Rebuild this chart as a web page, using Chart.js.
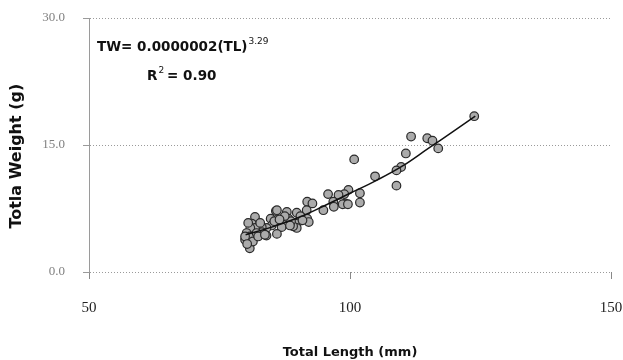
<!DOCTYPE html>
<html>
<head>
<meta charset="utf-8">
<script src="https://cdn.jsdelivr.net/npm/chart.js@4/dist/chart.umd.min.js"></script>
<style>
  html, body { margin: 0; padding: 0; background: #fff; }
  #wrap { width: 623px; height: 360px; }
</style>
</head>
<body>
<div id="wrap"><canvas id="chart" width="623" height="360"></canvas></div>
<script>
// Total length (mm) and weight (g) of each fish
const lengths = [
  123.8, 111.7, 114.8, 115.8, 116.9, 110.7, 100.8, 109.8, 108.9, 104.8,
  108.9, 101.9, 99.7, 98.9, 97.8, 95.8, 99.1, 98.6, 99.6, 101.9,
  96.8, 96.9, 94.9, 91.8, 92.8, 91.7, 91.8, 92.1, 89.8, 87.9,
  85.8, 89.8, 89.8, 89.1, 88.2, 88.7, 86.9, 86.0, 84.8, 85.0,
  84.0, 84.0, 83.1, 83.1, 81.8, 81.2, 81.8, 80.9, 80.2, 79.9,
  80.8, 80.8, 81.4, 82.1, 82.4, 79.9, 80.5, 83.7, 86.0, 87.5,
  90.5, 82.8, 85.5, 86.5, 80.3, 90.9, 88.5
];
const weights = [
  18.4, 16.0, 15.8, 15.5, 14.6, 14.0, 13.3, 12.4, 12.0, 11.3,
  10.2, 9.3, 9.7, 9.2, 9.1, 9.2, 8.1, 8.0, 8.0, 8.2,
  8.3, 7.7, 7.3, 8.3, 8.1, 7.3, 6.3, 5.9, 7.0, 7.1,
  7.2, 5.7, 5.2, 5.4, 6.3, 6.0, 5.3, 4.5, 6.3, 5.5,
  5.2, 4.3, 5.3, 4.7, 6.5, 5.7, 5.2, 5.2, 4.6, 3.8,
  4.2, 2.8, 3.6, 4.6, 4.2, 4.2, 5.8, 4.4, 7.3, 6.6,
  6.6, 5.8, 6.0, 6.2, 3.3, 6.1, 5.5
];

// trend line
const trendX = [80, 85, 90, 95, 100, 105, 110, 115, 120, 124];
const trendY = [4.4, 5.3, 6.4, 7.8, 9.3, 10.8, 12.5, 14.6, 16.7, 18.4];

const xTicks = [50, 100, 150];
const yTicks = [0, 15, 30];

const equationText = "TW= 0.0000002(TL)";
const exponentText = "3.29";
const r2Label = "R";
const r2Text = " = 0.90";

const points = lengths.map((x, i) => ({ x: x, y: weights[i] }));
const trend = trendX.map((x, i) => ({ x: x, y: trendY[i] }));

const textFont = "'DejaVu Sans', Verdana, sans-serif";
const tickFont = "'Liberation Serif', 'DejaVu Serif', serif";

// Equation and R squared written in the top left of the plot
const equationPlugin = {
  id: "equation",
  afterDraw(chart) {
    const ctx = chart.ctx;
    const area = chart.chartArea;
    ctx.save();
    ctx.fillStyle = "#111";
    ctx.textBaseline = "alphabetic";
    ctx.font = "bold 13.5px " + textFont;
    let x = area.left + 8;
    let y = area.top + 33;
    ctx.fillText(equationText, x, y);
    const w = ctx.measureText(equationText).width;
    ctx.font = "9px " + textFont;
    ctx.fillText(exponentText, x + w + 1, y - 7);

    ctx.font = "bold 13.5px " + textFont;
    x = area.left + 58;
    y = area.top + 62;
    ctx.fillText(r2Label, x, y);
    const rw = ctx.measureText(r2Label).width;
    ctx.font = "9px " + textFont;
    ctx.fillText("2", x + rw + 1, y - 7);
    ctx.font = "bold 13.5px " + textFont;
    ctx.fillText(r2Text, x + rw + 5, y);
    ctx.restore();
  }
};

new Chart(document.getElementById("chart"), {
  type: "scatter",
  data: {
    datasets: [
      {
        label: "fish",
        data: points,
        pointRadius: 4.3,
        pointBackgroundColor: "#ababab",
        pointBorderColor: "#2a2a2a",
        pointBorderWidth: 1.2,
        order: 2
      },
      {
        label: "trend",
        type: "line",
        data: trend,
        showLine: true,
        pointRadius: 0,
        borderColor: "#111",
        borderWidth: 1.5,
        tension: 0.4,
        fill: false,
        order: 1
      }
    ]
  },
  options: {
    responsive: false,
    animation: false,
    layout: { padding: { left: 0, right: 12, top: 18, bottom: 0 } },
    plugins: {
      legend: { display: false },
      tooltip: { enabled: false }
    },
    scales: {
      x: {
        type: "linear",
        min: 50,
        max: 150,
        afterBuildTicks: (scale) => { scale.ticks = xTicks.map(v => ({ value: v })); },
        afterFit: (scale) => {
          scale.height = 88;
          scale.paddingLeft = 0;
          scale.paddingRight = 0;
        },
        grid: {
          drawOnChartArea: false,
          drawTicks: true,
          tickLength: 7,
          color: "#888"
        },
        border: { display: false },
        ticks: {
          padding: 20,
          color: "#222",
          font: { family: tickFont, size: 15 },
          maxRotation: 0
        },
        title: {
          display: true,
          text: "Total Length (mm)",
          color: "#111",
          font: { family: textFont, size: 13, weight: "bold" },
          padding: { top: 0, bottom: 0 }
        }
      },
      y: {
        type: "linear",
        min: 0,
        max: 30,
        afterBuildTicks: (scale) => { scale.ticks = yTicks.map(v => ({ value: v })); },
        afterFit: (scale) => {
          scale.width = 89;
          scale.paddingTop = 0;
          scale.paddingBottom = 0;
        },
        grid: {
          color: "#9a9a9a",
          lineWidth: 1,
          tickLength: 6
        },
        border: { display: true, color: "#9a9a9a", dash: [1, 2] },
        ticks: {
          padding: 18,
          color: "#808080",
          font: { family: tickFont, size: 13 },
          callback: (v) => Number(v).toFixed(1)
        },
        title: {
          display: true,
          // trailing spaces push the title a little below the middle, as in the original
          text: "Totla Weight (g)    ",
          color: "#111",
          font: { family: textFont, size: 16, weight: "bold" },
          padding: { top: 7, bottom: 0 }
        }
      }
    }
  },
  plugins: [equationPlugin]
});
</script>
</body>
</html>
